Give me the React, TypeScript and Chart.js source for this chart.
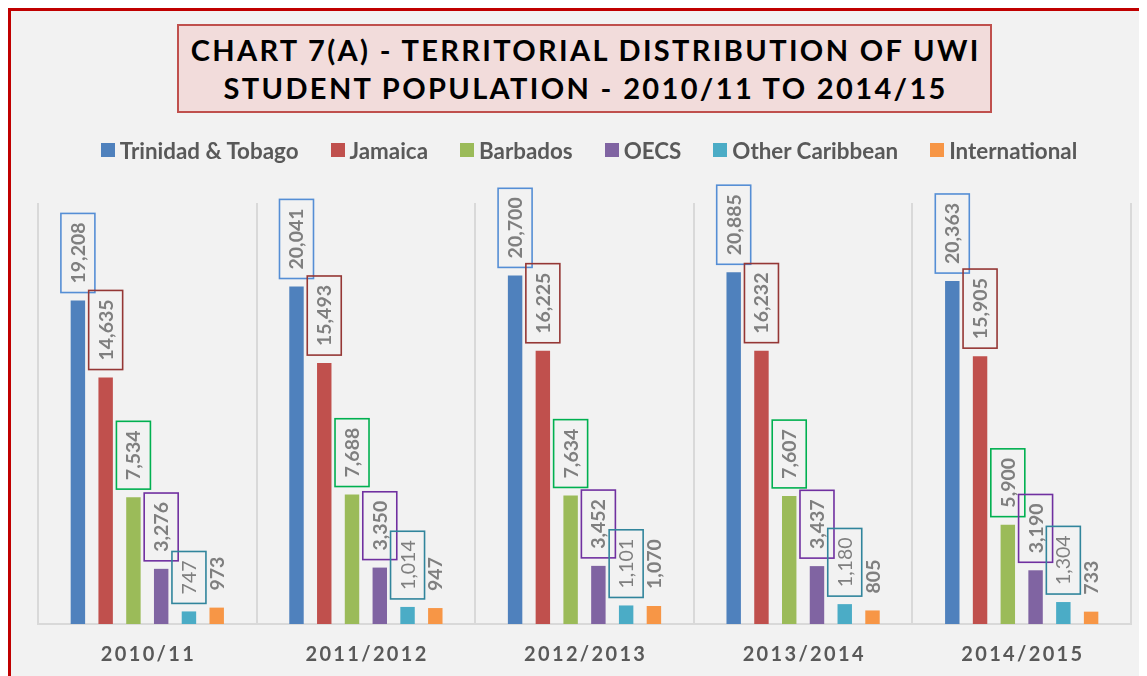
import React, { useEffect, useRef, useMemo } from "react";
import { Chart, registerables } from "chart.js";

Chart.register(...registerables);

// ---------- data ----------
const categories = ["2010/11", "2011/2012", "2012/2013", "2013/2014", "2014/2015"];
const seriesNames = ["Trinidad & Tobago", "Jamaica", "Barbados", "OECS", "Other Caribbean", "International"];
const trinidadTobago = [19208, 20041, 20700, 20885, 20363];
const jamaica = [14635, 15493, 16225, 16232, 15905];
const barbados = [7534, 7688, 7634, 7607, 5900];
const oecs = [3276, 3350, 3452, 3437, 3190];
const otherCaribbean = [747, 1014, 1101, 1180, 1304];
const international = [973, 947, 1070, 805, 733];
const seriesValues = [trinidadTobago, jamaica, barbados, oecs, otherCaribbean, international];

const barColors = ["#4f81bd", "#c0504d", "#9bbb59", "#8064a2", "#4bacc6", "#f79646"];
const labelBoxColors: (string | null)[] = ["#558ed5", "#953735", "#00b050", "#7030a0", "#31859c", null];
const labelBold = [true, true, true, true, false, true];
const titleLines = ["CHART 7(A) - TERRITORIAL DISTRIBUTION OF UWI", "STUDENT POPULATION - 2010/11 TO 2014/15"];
const yMax = 25000;

const FONT = "Lato, 'Noto Sans', sans-serif";
const W = 1136;
const H = 665;

function measure(text: string, font: string): number {
  const c = document.createElement("canvas").getContext("2d")!;
  c.font = font;
  return c.measureText(text).width;
}

const dataLabelPlugin = {
  id: "boxedLabels",
  afterDatasetsDraw(chart: any) {
    const ctx = chart.ctx as CanvasRenderingContext2D;
    chart.data.datasets.forEach((ds: any, di: number) => {
      const meta = chart.getDatasetMeta(di);
      const font = `${labelBold[di] ? 700 : 400} 19.5px ${FONT}`;
      meta.data.forEach((el: any, i: number) => {
        const v = ds.data[i] as number;
        const text = v.toLocaleString("en-US");
        ctx.save();
        ctx.font = font;
        const tw = ctx.measureText(text).width;
        const padAlong = 9;
        const across = 34;
        const gap = 8;
        ctx.translate(el.x, el.y - gap);
        ctx.rotate(-Math.PI / 2);
        const boxColor = labelBoxColors[di];
        if (boxColor) {
          ctx.strokeStyle = boxColor;
          ctx.lineWidth = 1.6;
          ctx.strokeRect(0, -across / 2, tw + padAlong * 2, across);
        }
        ctx.fillStyle = "#7f7f7f";
        ctx.textAlign = "left";
        ctx.textBaseline = "alphabetic";
        ctx.fillText(text, padAlong, 7);
        ctx.restore();
      });
    });
  },
};

const xLabelPlugin = {
  id: "spacedXLabels",
  afterDraw(chart: any) {
    const ctx = chart.ctx as CanvasRenderingContext2D;
    const xs = chart.scales.x;
    const font = `700 20px ${FONT}`;
    ctx.save();
    ctx.font = font;
    const base = measure(categories[0], font);
    const spacing = (93 - base) / (categories[0].length - 1);
    ctx.fillStyle = "#595959";
    ctx.textAlign = "left";
    ctx.textBaseline = "alphabetic";
    categories.forEach((label, i) => {
      (ctx as any).letterSpacing = "0px";
      const w = ctx.measureText(label).width;
      const total = w + spacing * (label.length - 1);
      (ctx as any).letterSpacing = `${spacing}px`;
      const cx = xs.getPixelForValue(i);
      ctx.fillText(label, cx - total / 2, 650);
    });
    ctx.restore();
  },
};

export default function App() {
  const ref = useRef<HTMLCanvasElement>(null);

  const titleFont = `700 29px ${FONT}`;
  const titleSpacing = useMemo(() => {
    const w = measure(titleLines[0], titleFont);
    return (791 - w) / (titleLines[0].length - 1);
  }, []);

  // legend font size chosen so the whole legend row spans the same width as the reference row
  const legendSize = useMemo(() => {
    const f = `700 20px ${FONT}`;
    const textW = seriesNames.reduce((s, n) => s + measure(n, f), 0);
    const fixed = seriesNames.length * 19 + (seriesNames.length - 1) * 32;
    return (20 * (978 - fixed)) / textW;
  }, []);

  useEffect(() => {
    document.body.style.overflow = "hidden";
    document.documentElement.style.overflow = "hidden";
    const chart = new Chart(ref.current!, {
      type: "bar",
      data: {
        labels: categories,
        datasets: seriesNames.map((name, i) => ({
          label: name,
          data: seriesValues[i],
          backgroundColor: barColors[i],
          borderWidth: 0,
          barPercentage: 0.52,
          categoryPercentage: 0.762,
        })),
      },
      options: {
        responsive: false,
        animation: false,
        layout: { padding: { left: 27, right: 16, top: 192, bottom: 52 } },
        plugins: {
          legend: { display: false },
          title: { display: false },
          tooltip: { enabled: false },
        },
        scales: {
          x: {
            grid: { display: true, offset: true, color: "#d9d9d9", lineWidth: 2, drawTicks: false },
            border: { display: true, color: "#d9d9d9", width: 2 },
            ticks: { display: false },
          },
          y: { display: false, min: 0, max: yMax },
        },
      },
      plugins: [dataLabelPlugin, xLabelPlugin],
    });
    return () => chart.destroy();
  }, []);

  return (
    <div
      style={{
        position: "relative",
        width: W,
        height: H,
        borderLeft: "3px solid #c00000",
        borderTop: "3px solid #c00000",
        background: "#f2f2f2",
        overflow: "hidden",
      }}
    >
      <canvas ref={ref} width={W} height={H} style={{ position: "absolute", left: 0, top: 0, display: "block" }} />
      <div
        style={{
          position: "absolute",
          left: 166,
          top: 13,
          width: 815,
          height: 89,
          boxSizing: "border-box",
          border: "2px solid #c0504d",
          background: "#f2dcdb",
          display: "flex",
          flexDirection: "column",
          alignItems: "center",
          justifyContent: "center",
          font: titleFont,
          lineHeight: "38px",
          color: "#000",
          letterSpacing: `${titleSpacing}px`,
          whiteSpace: "nowrap",
        }}
      >
        {titleLines.map((t) => (
          <div key={t} style={{ paddingLeft: titleSpacing }}>{t}</div>
        ))}
      </div>
      <div
        style={{
          position: "absolute",
          left: 0,
          top: 126,
          width: 1156,
          height: 26,
          display: "flex",
          justifyContent: "center",
          alignItems: "center",
          gap: 32,
          font: `700 ${legendSize}px ${FONT}`,
          color: "#595959",
          whiteSpace: "nowrap",
        }}
      >
        {seriesNames.map((n, i) => (
          <div key={n} style={{ display: "flex", alignItems: "center", gap: 5 }}>
            <span style={{ display: "inline-block", width: 14, height: 14, background: barColors[i] }} />
            <span>{n}</span>
          </div>
        ))}
      </div>
    </div>
  );
}
